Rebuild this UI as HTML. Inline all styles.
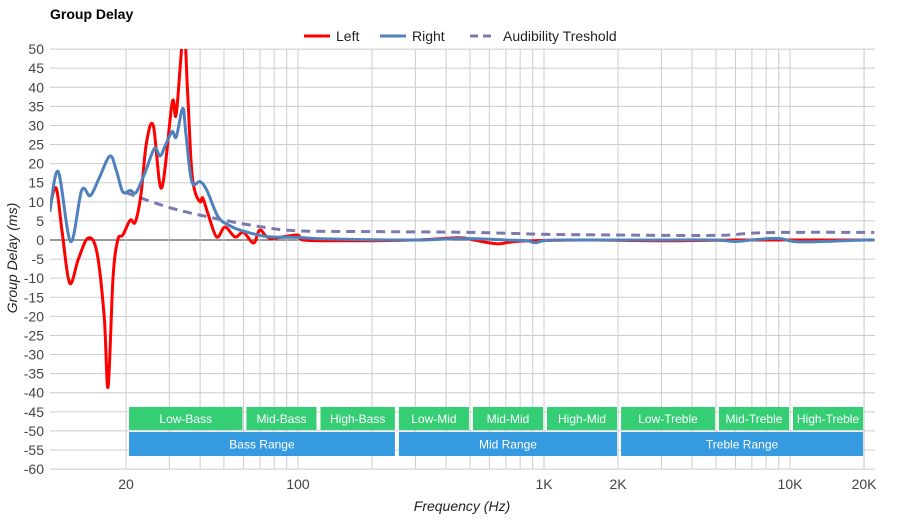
<!DOCTYPE html>
<html><head><meta charset="utf-8"><style>
body{margin:0;background:#fff;font-family:"Liberation Sans",sans-serif}
svg text{font-family:"Liberation Sans",sans-serif}
</style></head><body>
<svg id="c" width="900" height="520" xmlns="http://www.w3.org/2000/svg">
<text x="50" y="19" font-size="14" font-weight="bold" fill="#000">Group Delay</text>
<g>
<g><line x1="304" y1="36" x2="330" y2="36" stroke="#f00" stroke-width="3"/><text x="336" y="41" font-size="14" fill="#222">Left</text></g>
<g><line x1="380" y1="36" x2="406" y2="36" stroke="#4f81bd" stroke-width="3"/><text x="412" y="41" font-size="14" fill="#222">Right</text></g>
<g><line x1="470" y1="36" x2="496" y2="36" stroke="#7a7aae" stroke-width="3" stroke-dasharray="8,5"/><text x="503" y="41" font-size="14" fill="#222">Audibility Treshold</text></g>
</g>
<g id="grid"></g><g id="bands"></g><g id="series"></g><g id="axes"></g>
<text x="462" y="511" font-size="14" font-style="italic" text-anchor="middle" fill="#222">Frequency (Hz)</text>
<text transform="translate(17,258) rotate(-90)" font-size="14" font-style="italic" text-anchor="middle" fill="#222">Group Delay (ms)</text>
</svg>
<script>
const yTicks=[50,45,40,35,30,25,20,15,10,5,0,-5,-10,-15,-20,-25,-30,-35,-40,-45,-50,-55,-60];
const xTickVals=[20,100,1000,2000,10000,20000];
const xTickLabels=["20","100","1K","2K","10K","20K"];
const leftFreq=[9.8,10.4,11,11.8,12.8,14,15.2,16.3,16.9,17.7,18.5,19.4,20.8,21.8,23,24.2,25.8,27.9,30.8,32,34.3,35.5,36.8,38,40,41,43,46.7,50.5,55.5,60,66,70,77,99,105,150,300,450,520,650,800,1500,3000,6000,10000,22000];
const leftVal=[8.6,13.6,2,-11.3,-5,0.5,-3,-20,-38.5,-10,0,1.3,5.2,4.7,12,25.4,30,13.6,36,33,55,40,20,13,10,11,7,0.8,3.4,0.8,2,-0.8,2.6,0.5,1.3,0,-0.2,0,0.6,0,-1,-0.3,0,-0.2,0,0,0];
const rightFreq=[9.8,10.6,11.9,13.2,14.3,15.5,17.2,18.3,19.4,20.8,22,24,26.1,27.5,29,30.8,32,34,35,37,40,42.6,47.3,52,58,75,100,130,300,465,700,850,920,1000,1200,3000,5000,6000,7000,9000,11000,20000,22000];
const rightVal=[7.4,17.9,-0.4,13,11.6,16,22,18,12.6,13,12.5,18,24,22,25,28.4,27,34.5,28,15.3,15.3,13,6.1,4,2.6,0.9,0.7,0.3,0,0.4,0,-0.2,-0.7,-0.2,0,0,0,-0.4,0,0.4,-0.5,0,0];
const thrFreq=[20,30,45,70,100,200,500,1000,2000,5000,7000,10000,22000];
const thrVal=[12.4,8.5,5.8,3.5,2.4,2.2,2,1.5,1.3,1.2,1.8,2,2];
const bandLow=[[20,60,"Low-Bass"],[60,120,"Mid-Bass"],[120,250,"High-Bass"],[250,500,"Low-Mid"],[500,1000,"Mid-Mid"],[1000,2000,"High-Mid"],[2000,5000,"Low-Treble"],[5000,10000,"Mid-Treble"],[10000,20000,"High-Treble"]];
const bandHigh=[[20,250,"Bass Range"],[250,2000,"Mid Range"],[2000,20000,"Treble Range"]];
const NS="http://www.w3.org/2000/svg";
const X0=50,X1=875,Y0=49,Y1=469;
function xs(f){return 298+246*Math.log10(f/100);}
function ys(v){return 240-v*(Y1-Y0)/110;}
function mk(t,a,p){const e=document.createElementNS(NS,t);for(const k in a)e.setAttribute(k,a[k]);p.appendChild(e);return e;}
const grid=document.getElementById('grid');
yTicks.forEach(v=>{const l=mk('line',{x1:X0,x2:X1,y1:ys(v),y2:ys(v),stroke:v===0?'#333':'#ccc','stroke-width':1},grid);


const t=mk('text',{x:44,y:ys(v)+5,'font-size':14,'text-anchor':'end',fill:'#444'},grid);t.textContent=v;

});
for(let d=10;d<=10000;d*=10){for(let m=1;m<10;m++){const f=d*m;if(f<20||f>22000)continue;const l=mk('line',{x1:xs(f),x2:xs(f),y1:Y0,y2:Y1,stroke:'#ccc','stroke-width':1},grid);

}}
{const l=mk('line',{x1:xs(20000),x2:xs(20000),y1:Y0,y2:Y1,stroke:'#ccc'},grid);}
xTickVals.forEach((f,i)=>{const t=mk('text',{x:xs(f),y:489,'font-size':14,'text-anchor':'middle',fill:'#444'},grid);t.textContent=xTickLabels[i];

});
const bands=document.getElementById('bands');
function drawBands(arr,y,h,col,nm){arr.forEach(b=>{const x1=xs(b[0])+3,x2=xs(b[1])-1;
const r=mk('rect',{x:x1,y:y,width:x2-x1,height:h,fill:col,opacity:0.97},bands);


const t=mk('text',{x:(x1+x2)/2,y:y+h/2+4.5,'font-size':12,'text-anchor':'middle',fill:'#fff'},bands);t.textContent=b[2];

});}
drawBands(bandLow,407,23,'#2ecc71','frequency-band');
drawBands(bandHigh,432,24,'#3097e0','frequency-range');
const ser=document.getElementById('series');
const cp=mk('clipPath',{id:'cp'},ser);mk('rect',{x:X0,y:Y0,width:X1-X0,height:Y1-Y0},cp);
function smooth(fr,vals){const p=fr.map((f,i)=>[xs(f),ys(vals[i])]);let d='M'+p[0][0]+','+p[0][1];
for(let i=0;i<p.length-1;i++){const p0=p[i-1]||p[i],p1=p[i],p2=p[i+1],p3=p[i+2]||p2;const k=1/6;
d+=' C'+(p1[0]+(p2[0]-p0[0])*k)+','+(p1[1]+(p2[1]-p0[1])*k)+' '+(p2[0]-(p3[0]-p1[0])*k)+','+(p2[1]-(p3[1]-p1[1])*k)+' '+p2[0]+','+p2[1];}return d;}
const th=mk('path',{d:smooth(thrFreq,thrVal),fill:'none',stroke:'#7a7aae','stroke-width':3,'stroke-dasharray':'9,6','clip-path':'url(#cp)'},ser);


const lp=mk('path',{d:smooth(leftFreq,leftVal),fill:'none',stroke:'#f00','stroke-width':3,'clip-path':'url(#cp)'},ser);


const rp=mk('path',{d:smooth(rightFreq,rightVal),fill:'none',stroke:'#4f81bd','stroke-width':3,'clip-path':'url(#cp)'},ser);


</script>
</body></html>
